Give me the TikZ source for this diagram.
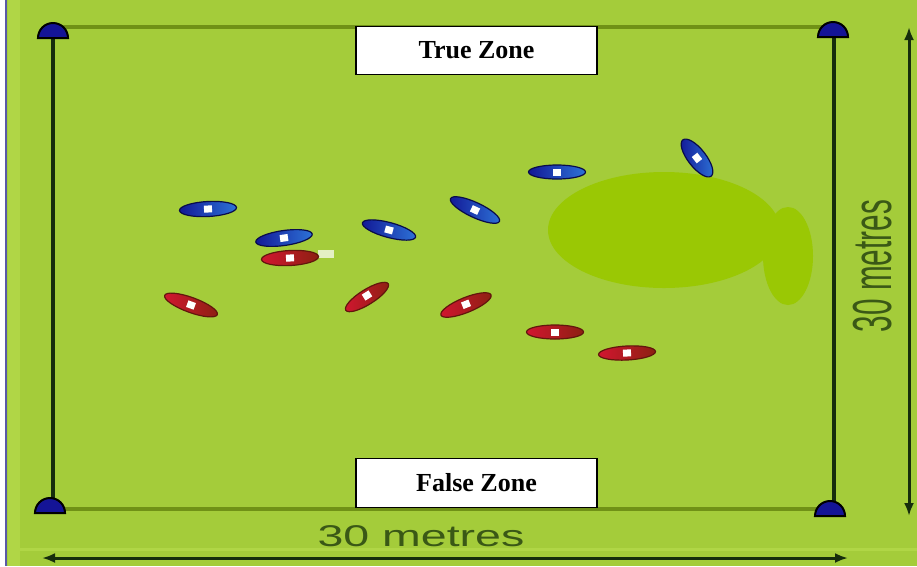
\documentclass[tikz,border=0pt]{standalone}
\usepackage{fontspec}
\setmainfont{Liberation Serif}
\newfontfamily\labelfont{Liberation Sans}
\usetikzlibrary{shapes.geometric,arrows.meta}
\definecolor{pitch}{RGB}{164,204,58}
\definecolor{pitchlight}{RGB}{176,214,70}
\definecolor{blob}{RGB}{154,200,4}
\definecolor{fieldline}{RGB}{112,145,22}
\definecolor{darkline}{RGB}{22,45,12}
\definecolor{labelgreen}{RGB}{58,88,22}
\definecolor{coneblue}{RGB}{18,24,150}
\definecolor{conebluelight}{RGB}{45,115,215}
\definecolor{conered}{RGB}{210,22,48}
\definecolor{conereddark}{RGB}{140,32,18}
\definecolor{markerblue}{RGB}{20,20,150}
\tikzset{
  player/.style={ellipse, inner sep=0pt, minimum width=57pt, minimum height=15pt, line width=1.2pt,
    path picture={\fill[white] ([xshift=-4pt,yshift=-3.5pt]path picture bounding box.center) rectangle ([xshift=4pt,yshift=3.5pt]path picture bounding box.center);}},
  blueplayer/.style={player, draw=coneblue!50!black, left color=coneblue, right color=conebluelight},
  redplayer/.style={player, draw=conereddark!70!black, left color=conered, right color=conereddark},
  cornermark/.style={semicircle, anchor=chord center, minimum width=30pt, inner sep=0pt, fill=markerblue, draw=black, line width=2pt},
  zonebox/.style={rectangle, draw=black, line width=1.8pt, fill=white, minimum width=241pt, minimum height=48pt, inner sep=0pt, font=\bfseries\fontsize{26}{30}\selectfont},
  edgeline/.style={fieldline, line width=4pt},
  sideline/.style={darkline, line width=3.2pt},
  dimarrow/.style={darkline, line width=3pt, {Latex[length=13pt,width=10pt]}-{Latex[length=13pt,width=10pt]}},
  dimtext/.style={text=labelgreen, inner sep=0pt}
}
\begin{document}
\begin{tikzpicture}[x=1pt,y=-1pt]
\useasboundingbox (0,0) rectangle (917,566);
% background
\fill[pitch] (0,0) rectangle (917,566);
\fill[pitchlight] (8,0) rectangle (20,566);
\fill[white] (0,0) rectangle (5,566);
\draw[gray!70!blue, line width=1.6pt] (6,0) -- (6,566);
\draw[pitchlight, line width=3pt] (8,549) -- (917,549);
% blobs
\fill[blob] (664,230) ellipse [x radius=116, y radius=58];
\fill[blob] (788,256) ellipse [x radius=25, y radius=49];
% corner coordinates
\coordinate (TL) at (53,39);
\coordinate (TR) at (833,38);
\coordinate (BL) at (50,514);
\coordinate (BR) at (830,517);
\coordinate (TLl) at (53,27);
\coordinate (TRl) at (834,27);
\coordinate (BLl) at (50,509);
\coordinate (BRl) at (834,509);
% field lines
\draw[edgeline] (TLl) -- (TRl);
\draw[edgeline] (BLl) -- (BRl);
\draw[sideline] (TLl) -- (53,509) coordinate (BLv);
\draw[sideline] (TRl) -- (BRl);
% corner markers
\node[cornermark] (m1) at (TL) {};
\node[cornermark] (m2) at (TR) {};
\node[cornermark] (m3) at (BL) {};
\node[cornermark] (m4) at (BR) {};
% dimension arrows
\coordinate (RA1) at (909,27);
\coordinate (RA2) at (909,516);
\draw[dimarrow] (RA1) -- (RA2);
\coordinate (BA1) at (42,558);
\coordinate (BA2) at (848,558);
\draw[dimarrow] (BA1) -- (BA2);
\node[dimtext] (bottomlabel) at (421,536) {\scalebox{1.55}[1]{\labelfont\fontsize{30}{32}\selectfont 30 metres}};
\node[dimtext, rotate=90] (sidelabel) at (873,266) {\scalebox{0.54}[1]{\labelfont\fontsize{55}{58}\selectfont 30 metres}};
% zones
\node[zonebox] (truezone) at (476.5,50.5) {True Zone};
\node[zonebox, minimum height=49pt] (falsezone) at (476.5,483) {False Zone};
% blue players
\node[blueplayer, rotate=3] (b1) at (208,209) {};
\node[blueplayer, rotate=8] (b2) at (284,238) {};
\node[blueplayer, rotate=-15, minimum width=55pt] (b3) at (389,230) {};
\node[blueplayer, rotate=-25, minimum width=54pt] (b4) at (475,210) {};
\node[blueplayer, rotate=0, minimum height=14pt] (b5) at (557,172) {};
\node[blueplayer, rotate=-52, minimum width=46pt, minimum height=18pt] (b6) at (697,158) {};
% red players
\fill[white!70!pitch] (318,250) rectangle (334,258);
\node[redplayer, rotate=3] (r1) at (290,258) {};
\node[redplayer, rotate=-20, minimum width=56pt] (r2) at (191,305) {};
\node[redplayer, rotate=32, minimum width=50pt] (r3) at (367,297) {};
\node[redplayer, rotate=22, minimum width=54pt] (r4) at (466,305) {};
\node[redplayer, rotate=0, minimum height=14pt] (r5) at (555,332) {};
\node[redplayer, rotate=3, minimum height=14pt] (r6) at (627,353) {};
\end{tikzpicture}
\end{document}
